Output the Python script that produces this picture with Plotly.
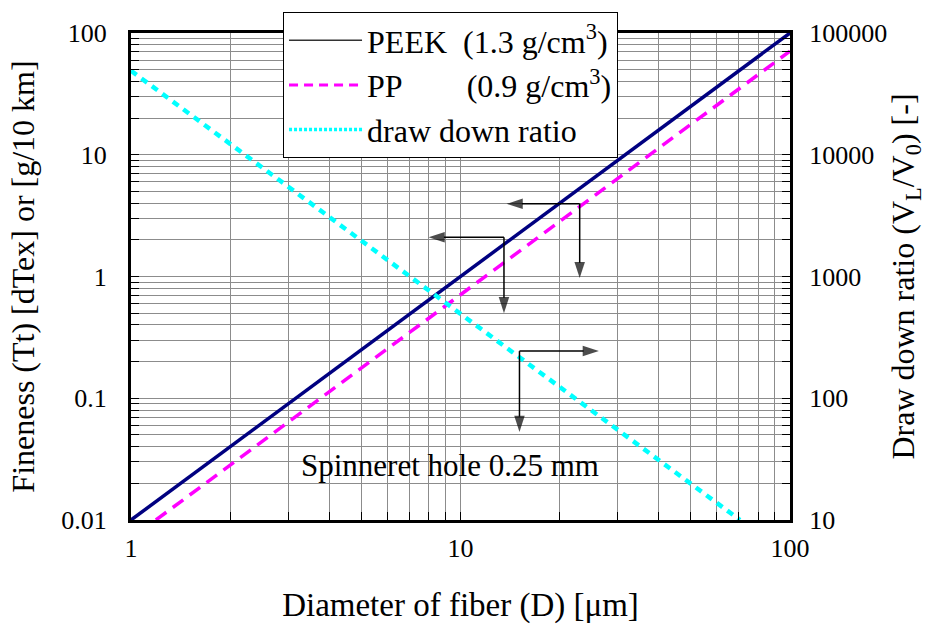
import plotly.graph_objects as go

# Fibre diameter [µm] and fineness [dtex] for the two polymers
peek_diameter = [1.0, 100.0]
peek_fineness = [0.01, 100.0]
pp_diameter = [1.19, 100.0]
pp_fineness = [0.01, 71.0]

# Draw down ratio V_L/V_0 for a 0.25 mm spinneret hole
ddr_diameter = [1.0, 70.5]
ddr_ratio = [49000.0, 10.0]

x_ticks = [1, 10, 100]
x_tick_text = ["1", "10", "100"]
y_ticks = [0.01, 0.1, 1, 10, 100]
y_tick_text = ["0.01", "0.1", "1", "10", "100"]
y2_ticks = [10, 100, 1000, 10000, 100000]
y2_tick_text = ["10", "100", "1000", "10000", "100000"]

legend_names = [
    "PEEK\u00a0\u00a0(1.3 g/cm<sup>3</sup>)",
    "PP\u00a0\u00a0\u00a0\u00a0\u00a0\u00a0\u00a0\u00a0(0.9 g/cm<sup>3</sup>)",
    "draw down ratio",
]

# Guide arrows pointing each curve to its axis: (corner x, corner y, tip x, tip y, axis)
arrows = [
    (23.0, 3.95, 13.8, 3.95, "y"),
    (23.0, 3.95, 23.0, 0.97, "y"),
    (13.55, 2.1, 8.0, 2.1, "y"),
    (13.55, 2.1, 13.55, 0.5, "y"),
    (15.1, 244.0, 26.3, 244.0, "y2"),
    (15.1, 244.0, 15.1, 52.8, "y2"),
]

FONT = "'Liberation Serif', 'DejaVu Serif', serif"
GRID = "#8c8c8c"


def minor_vals(lo_exp, hi_exp):
    return [m * 10 ** e for e in range(lo_exp, hi_exp) for m in range(2, 10)]


fig = go.Figure()

fig.add_trace(go.Scatter(
    x=peek_diameter, y=peek_fineness, mode="lines",
    line=dict(color="#000080", width=3.5), showlegend=False))
fig.add_trace(go.Scatter(
    x=pp_diameter, y=pp_fineness, mode="lines",
    line=dict(color="#ff00ff", width=3.5, dash="13px,8px"), showlegend=False))
fig.add_trace(go.Scatter(
    x=ddr_diameter, y=ddr_ratio, mode="lines", yaxis="y2",
    line=dict(color="#00ffff", width=4.5, dash="7px,6px"), showlegend=False))

# Arrow stems with a head on the far end
for cx, cy, tx, ty, yref in arrows:
    fig.add_trace(go.Scatter(
        x=[cx, tx], y=[cy, ty], yaxis=yref, mode="lines+markers",
        line=dict(color="black", width=1.5),
        marker=dict(symbol="arrow", angleref="previous", size=[0, 17],
                    color="black", line=dict(width=0)),
        showlegend=False, hoverinfo="skip"))

# Legend entries
legend_styles = [
    dict(color="#333333", width=1.5),
    dict(color="#ff00ff", width=3, dash="9px,6px"),
    dict(color="#00ffff", width=3.5, dash="3px,2px"),
]
for name, style in zip(legend_names, legend_styles):
    fig.add_trace(go.Scatter(x=[None], y=[None], mode="lines", name=name, line=style))

axis_common = dict(
    type="log", showline=True, linecolor="black", linewidth=3,
    ticks="inside", ticklen=8, tickwidth=1, tickcolor="black",
    showgrid=True, gridcolor=GRID, gridwidth=1, zeroline=False,
    tickfont=dict(family=FONT, size=26, color="black"),
    tickmode="array",
)

fig.update_layout(
    width=926, height=635,
    margin=dict(l=131, r=136, t=33, b=115, autoexpand=False),
    paper_bgcolor="white", plot_bgcolor="white",
    font=dict(family=FONT, color="black"),
    xaxis=dict(
        **axis_common, range=[0, 2], mirror=True,
        tickvals=x_ticks, ticktext=x_tick_text, ticklabelstandoff=3,
        minor=dict(tickvals=minor_vals(0, 2), showgrid=True, gridcolor=GRID,
                   gridwidth=1, ticks="inside", ticklen=8, tickcolor="black"),
        title=dict(text="Diameter of fiber (D) [\u03bcm]", standoff=31,
                   font=dict(family=FONT, size=33)),
    ),
    yaxis=dict(
        **axis_common, range=[-2, 2],
        tickvals=y_ticks, ticktext=y_tick_text, ticklabelstandoff=16,
        minor=dict(tickvals=minor_vals(-2, 2), showgrid=True, gridcolor=GRID,
                   gridwidth=1, ticks="inside", ticklen=8, tickcolor="black"),
        title=dict(text="Fineness (Tt) [dTex] or [g/10 km]", standoff=18,
                   font=dict(family=FONT, size=32)),
    ),
    yaxis2=dict(
        type="log", overlaying="y", side="right", range=[1, 5],
        showline=True, linecolor="black", linewidth=3,
        ticks="inside", ticklen=8, tickwidth=1, tickcolor="black",
        showgrid=False, zeroline=False, tickmode="array",
        tickvals=y2_ticks, ticktext=y2_tick_text, ticklabelstandoff=11,
        tickfont=dict(family=FONT, size=26, color="black"),
        minor=dict(tickvals=minor_vals(1, 5), ticks="inside", ticklen=8,
                   tickcolor="black", showgrid=False),
        title=dict(text="Draw down ratio (V<sub>L</sub>/V<sub>0</sub>) [-]",
                   standoff=40, font=dict(family=FONT, size=32)),
    ),
    legend=dict(
        x=0.2307, y=1.043, xanchor="left", yanchor="top",
        bgcolor="white", bordercolor="black", borderwidth=1,
        font=dict(family=FONT, size=32, color="black"),
        itemwidth=73, tracegroupgap=0,
    ),
)

fig.add_annotation(
    x=0.968, y=-1.556, xref="x", yref="y",
    text="Spinneret hole 0.25 mm", showarrow=False,
    font=dict(family=FONT, size=31, color="black"),
)

fig.write_html("out.html")
